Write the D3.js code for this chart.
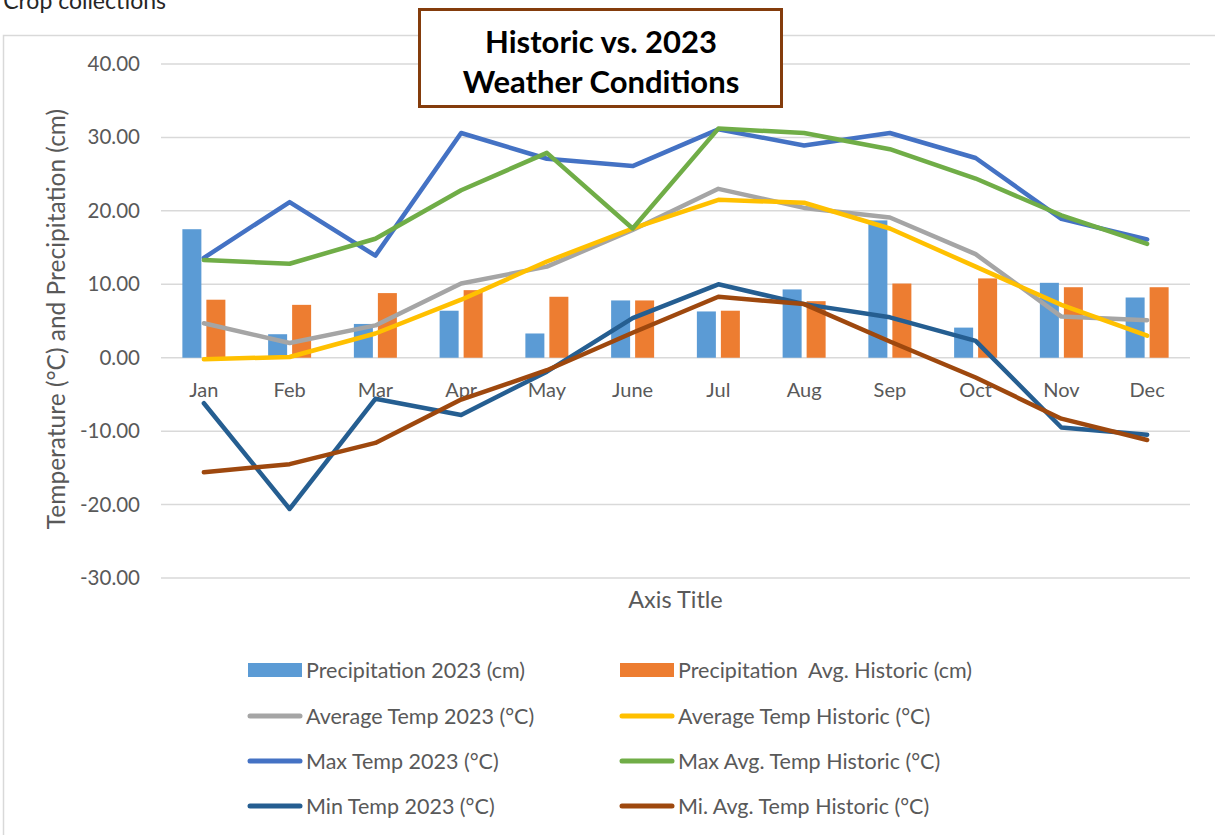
<!DOCTYPE html>
<html><head><meta charset="utf-8">
<script src="https://cdn.jsdelivr.net/npm/d3@7"></script>
<style>
html,body{margin:0;padding:0;background:#fff;overflow:hidden;}
svg{display:block;}
</style></head>
<body>
<svg id="c" width="1215" height="835"></svg>
<script>
const months = ["Jan","Feb","Mar","Apr","May","June","Jul","Aug","Sep","Oct","Nov","Dec"];
const precip2023 = [17.5,3.2,4.6,6.4,3.3,7.8,6.3,9.3,18.7,4.1,10.2,8.2];
const precipHist = [7.9,7.2,8.8,9.2,8.3,7.8,6.4,7.7,10.1,10.8,9.6,9.6];
const avgTemp2023 = [4.7,2.0,4.4,10.1,12.4,17.4,23.0,20.4,19.1,14.1,5.6,5.1];
const avgTempHist = [-0.2,0.1,3.3,7.9,13.1,17.6,21.5,21.1,17.6,12.4,7.2,3.0];
const maxTemp2023 = [13.6,21.2,13.9,30.6,27.1,26.1,31.1,28.9,30.6,27.2,18.9,16.1];
const maxTempHist = [13.3,12.8,16.2,22.8,27.9,17.6,31.2,30.6,28.4,24.4,19.4,15.5];
const minTemp2023 = [-6.2,-20.6,-5.6,-7.8,-1.9,5.4,10.0,7.3,5.5,2.3,-9.5,-10.5];
const minTempHist = [-15.6,-14.5,-11.6,-5.7,-1.7,3.4,8.3,7.3,2.2,-2.7,-8.3,-11.2];
const yTicks = [-30,-20,-10,0,10,20,30,40];

const barSeries = [
  {name:"Precipitation 2023 (cm)", values:precip2023, color:"#5B9BD5"},
  {name:"Precipitation  Avg. Historic (cm)", values:precipHist, color:"#ED7D31"}
];
const lineSeries = [
  {name:"Average Temp 2023 (°C)", values:avgTemp2023, color:"#A5A5A5"},
  {name:"Average Temp Historic (°C)", values:avgTempHist, color:"#FFC000"},
  {name:"Max Temp 2023 (°C)", values:maxTemp2023, color:"#4472C4"},
  {name:"Max Avg. Temp Historic (°C)", values:maxTempHist, color:"#70AD47"},
  {name:"Min Temp 2023 (°C)", values:minTemp2023, color:"#255E91"},
  {name:"Mi. Avg. Temp Historic (°C)", values:minTempHist, color:"#9E480E"}
];

const svg = d3.select("#c");
const FONT = "Lato, 'Open Sans', sans-serif";
const TXT = "#595959";

// outer text fragment and chart border
svg.append("text").attr("x",166).attr("y",9).attr("text-anchor","end")
  .attr("font-family",FONT).attr("font-size",23).attr("fill","#262626").text("Crop collections");
svg.append("rect").attr("x",3.5).attr("y",35.5).attr("width",1300).attr("height",900)
  .attr("fill","#fff").attr("stroke","#D9D9D9").attr("stroke-width",1.5);

const x = d3.scaleBand().domain(months).range([161,1190]).padding(0);
const y = d3.scaleLinear().domain([-30,40]).range([578,64]);

// gridlines
svg.append("g").selectAll("line").data(yTicks).join("line")
  .attr("x1",161).attr("x2",1190).attr("y1",d=>y(d)).attr("y2",d=>y(d))
  .attr("stroke","#D9D9D9").attr("stroke-width",1.5);

// y axis via d3.axisLeft
const fmt = d => d3.format(".2f")(d).replace("\u2212","-");
const yAxis = svg.append("g").attr("transform","translate(140,0)")
  .call(d3.axisLeft(y).tickValues(yTicks).tickFormat(fmt).tickSize(0).tickPadding(0));
yAxis.select(".domain").remove();
yAxis.selectAll("text").attr("font-family",FONT).attr("font-size",20.5).attr("fill",TXT);

// x axis labels
const xAxis = svg.append("g").attr("transform",`translate(0,${y(0)})`)
  .call(d3.axisBottom(x).tickSize(0).tickPadding(25));
xAxis.select(".domain").remove();
xAxis.selectAll("text").attr("font-family",FONT).attr("font-size",20).attr("fill",TXT);

// bars
const bw = 19, gap = 5;
barSeries.forEach((s,i)=>{
  svg.append("g").selectAll("rect").data(s.values).join("rect")
    .attr("x",(d,j)=>x(months[j]) + x.bandwidth()/2 - (bw*2+gap)/2 + i*(bw+gap))
    .attr("width",bw)
    .attr("y",d=>y(Math.max(0,d)))
    .attr("height",d=>Math.abs(y(d)-y(0)))
    .attr("fill",s.color);
});

// lines
const line = d3.line().x((d,j)=>x(months[j])+x.bandwidth()/2).y(d=>y(d));
lineSeries.forEach(s=>{
  svg.append("path").datum(s.values).attr("d",line)
    .attr("fill","none").attr("stroke",s.color).attr("stroke-width",4.5)
    .attr("stroke-linecap","round").attr("stroke-linejoin","round");
});

// axis titles
svg.append("text").attr("transform","translate(65,319) rotate(-90)").attr("text-anchor","middle")
  .attr("font-family",FONT).attr("font-size",24.5).attr("fill",TXT)
  .text("Temperature (°C) and Precipitation (cm)");
svg.append("text").attr("x",675.5).attr("y",608).attr("text-anchor","middle")
  .attr("font-family",FONT).attr("font-size",23.5).attr("fill",TXT).text("Axis Title");

// chart title box
svg.append("rect").attr("x",419.5).attr("y",9.5).attr("width",362).attr("height",97)
  .attr("fill","#fff").attr("stroke","#843C0C").attr("stroke-width",3);
svg.append("text").attr("x",601).attr("y",53).attr("text-anchor","middle")
  .attr("font-family",FONT).attr("font-weight","bold").attr("font-size",31).attr("fill","#000")
  .text("Historic vs. 2023");
svg.append("text").attr("x",601).attr("y",93).attr("text-anchor","middle")
  .attr("font-family",FONT).attr("font-weight","bold").attr("font-size",31).attr("fill","#000")
  .text("Weather Conditions");

// legend
const legendItems = [...barSeries.map(s=>({...s,type:"bar"})), ...lineSeries.map(s=>({...s,type:"line"}))];
const colX = [248,620], rowY = [670,716,761,806];
legendItems.forEach((s,i)=>{
  const cx = colX[i%2], cy = rowY[Math.floor(i/2)];
  const g = svg.append("g");
  if(s.type==="bar"){
    g.append("rect").attr("x",cx).attr("y",cy-7).attr("width",54).attr("height",14).attr("fill",s.color);
  } else {
    g.append("line").attr("x1",cx+2).attr("x2",cx+52).attr("y1",cy).attr("y2",cy)
      .attr("stroke",s.color).attr("stroke-width",5).attr("stroke-linecap","round");
  }
  g.append("text").attr("x",cx+58).attr("y",cy).attr("dy","0.35em")
    .attr("font-family",FONT).attr("font-size",21.5).attr("fill",TXT)
    .attr("xml:space","preserve").style("white-space","pre").text(s.name);
});
</script>
</body></html>
